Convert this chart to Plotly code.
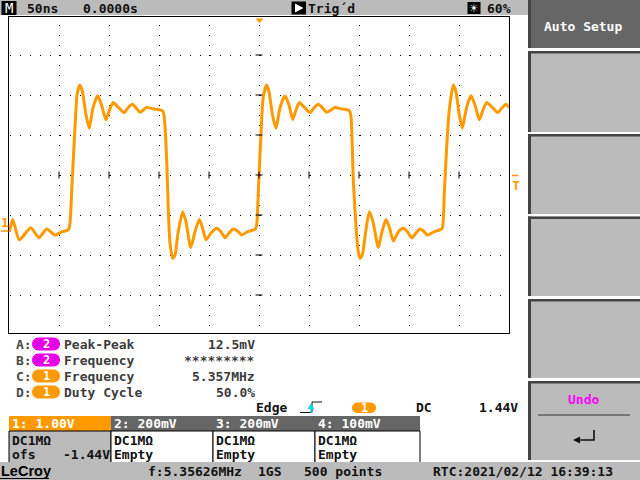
import plotly.graph_objects as go

# ---------------- data read from the screen ----------------
# channel 1 waveform: time in ns (0 = trigger point), voltage in V
time_ns = [
    -249.5, -246.3, -239.7, -228.3, -220, -212.3, -204, -197, -190.7,
    -189, -187, -184, -181.7, -179, -176.5, -173, -169.7, -166, -161.3,
    -157.5, -153, -149.5, -145.7, -141, -135, -131, -126.7, -123, -119,
    -112.3, -107, -102.3, -96.7,
    -95, -92.3, -90.7, -89, -86.3, -84, -81, -76.3, -73, -68.3,
    -64, -59.7, -56.5, -53, -48, -42.3, -38, -34, -30, -25.7,
    -21.5, -17.3, -11, -4,
    -2.3, -1, 0, 2, 4.3, 7.7, 10, 13.5, 17, 21,
    26, 30, 33.7, 37, 40.3, 45, 51, 55, 59.3, 63.5,
    67.7, 76, 81, 86, 90.3,
    92, 94.3, 97, 99.3, 101, 103.5, 106.5, 110.3, 114, 119.3,
    123, 127, 130.5, 134.3, 137, 140.3, 144.3, 148.5, 152.7, 157,
    161, 164.5, 168.3, 175, 181, 183.3,
    185.3, 187.7, 190.3, 194.3, 197, 200, 203.3, 207.5, 212, 216,
    220.3, 224, 227.7, 233, 238.7, 243, 247, 250,
]
ch1_volts = [
    0.02, 0.33, -0.18, 0.12, -0.13, 0.09, -0.06, 0.02, 0.07,
    0.24, 1.19, 2.64, 3.49, 3.69, 3.52, 2.94, 2.61, 3.12, 3.42,
    3.19, 2.82, 3.07, 3.25, 3.14, 3.00, 3.12, 3.21, 3.12, 3.01,
    3.13, 3.10, 3.08, 3.05,
    2.94, 1.82, 0.57, -0.26, -0.64, -0.56, -0.01, 0.52, 0.27, -0.37,
    0.02, 0.33, 0.12, -0.18, -0.01, 0.11, 0.02, -0.13, -0.01, 0.09,
    0.04, -0.06, 0.03, 0.08,
    0.19, 0.82, 1.40, 2.48, 3.40, 3.69, 3.52, 2.94, 2.61, 3.12,
    3.42, 3.19, 2.83, 3.07, 3.25, 3.14, 3.00, 3.12, 3.21, 3.12,
    3.01, 3.13, 3.10, 3.08, 3.05,
    2.90, 1.32, 0.15, -0.48, -0.64, -0.54, -0.01, 0.52, 0.27, -0.37,
    0.02, 0.33, 0.12, -0.21, -0.09, 0.05, 0.11, 0.02, -0.13, -0.01,
    0.09, 0.04, -0.06, 0.02, 0.07, 0.11,
    0.98, 2.15, 3.07, 3.69, 3.52, 2.99, 2.61, 3.12, 3.42, 3.19,
    2.82, 3.07, 3.25, 3.14, 3.00, 3.12, 3.21, 3.12,
]

time_per_div_ns = 50
volts_per_div = 1.0
offset_v = -1.44
h_divs = 10
v_span_divs = 3.95   # visible divisions above / below centre

top_bar = ["50ns", "0.0000s", "Trig\u00b4d", "60%"]
meas_labels = ["A:", "B:", "C:", "D:"]
meas_channels = ["2", "2", "1", "1"]
meas_names = ["Peak-Peak", "Frequency", "Frequency", "Duty Cycle"]
meas_values = ["12.5mV", "*********", "5.357MHz", "50.0%"]
trig_texts = ["Edge", "1", "DC", "1.44V"]
ch_headers = ["1: 1.00V", "2: 200mV", "3: 200mV", "4: 100mV"]
ch_line1 = ["DC1M\u03a9", "DC1M\u03a9", "DC1M\u03a9", "DC1M\u03a9"]
ch_line2 = ["ofs", "Empty", "Empty", "Empty"]
ch1_offset_text = "-1.44V"
status_texts = ["f:5.35626MHz", "1GS", "500 points", "RTC:2021/02/12 16:39:13"]
menu_texts = ["Auto Setup", "Undo"]

# ---------------- helpers ----------------
W, H = 640, 480
MONO = "DejaVu Sans Mono"
ORANGE = "#FF9900"
MAGENTA = "#E600E6"
GRAY = "#BBBBBB"
DARK = "#666666"
EDGE = "#444444"

def X(px):
    return px / W

def Y(py):
    return 1 - py / H

shapes = []
annotations = []

def rect(x0, y0, x1, y1, fill, line=None, lw=0):
    shapes.append(dict(type="rect", xref="paper", yref="paper",
                       x0=X(x0), x1=X(x1), y0=Y(y1), y1=Y(y0),
                       fillcolor=fill, line=dict(width=lw, color=line or fill),
                       layer="above"))

def seg(x0, y0, x1, y1, color, lw=1):
    shapes.append(dict(type="line", xref="paper", yref="paper",
                       x0=X(x0), x1=X(x1), y0=Y(y0), y1=Y(y1),
                       line=dict(width=lw, color=color), layer="above"))

def poly(pts, fill, lw=0, line=None, closed=True):
    d = "M" + " L".join(f"{X(a):.5f},{Y(b):.5f}" for a, b in pts)
    if closed:
        d += " Z"
    shapes.append(dict(type="path", xref="paper", yref="paper", path=d,
                       fillcolor=fill if closed else None,
                       line=dict(width=lw, color=line or fill), layer="above"))

def pill(x0, y0, x1, y1, fill):
    r = (y1 - y0) / 2
    k = 0.552 * r
    yc = (y0 + y1) / 2
    P = lambda a, b: f"{X(a):.5f},{Y(b):.5f}"
    d = (f"M{P(x0 + r, y0)} L{P(x1 - r, y0)} "
         f"C{P(x1 - r + k, y0)} {P(x1, yc - k)} {P(x1, yc)} "
         f"C{P(x1, yc + k)} {P(x1 - r + k, y1)} {P(x1 - r, y1)} "
         f"L{P(x0 + r, y1)} "
         f"C{P(x0 + r - k, y1)} {P(x0, yc + k)} {P(x0, yc)} "
         f"C{P(x0, yc - k)} {P(x0 + r - k, y0)} {P(x0 + r, y0)} Z")
    shapes.append(dict(type="path", xref="paper", yref="paper", path=d,
                       fillcolor=fill, line=dict(width=0, color=fill), layer="above"))

def text(s, x, y, color="#222222", size=13, anchor="left", family=MONO, weight="bold"):
    annotations.append(dict(text=s, x=X(x), y=Y(y), xref="paper", yref="paper",
                            xanchor=anchor, yanchor="middle", showarrow=False,
                            borderpad=0,
                            font=dict(family=family, size=size, color=color,
                                      weight=weight)))

# ---------------- figure ----------------
fig = go.Figure()
fig.add_trace(go.Scatter(
    x=time_ns, y=ch1_volts, mode="lines",
    line=dict(color=ORANGE, width=3, shape="spline", smoothing=0.6),
    hoverinfo="skip", showlegend=False))

x_half = time_per_div_ns * h_divs / 2
centre_v = -offset_v
y_lo = centre_v - v_span_divs * volts_per_div
y_hi = centre_v + v_span_divs * volts_per_div

# plot frame position (pixels)
PL, PR, PT, PB = 9, 509, 17, 333

# centre-cross tick marks
px_per_ns = (PR - PL) / (2 * x_half)
px_per_v = (PB - PT) / (y_hi - y_lo)
for k in range(-4, 5):
    t = k * time_per_div_ns
    shapes.append(dict(type="line", xref="x", yref="y", x0=t, x1=t,
                       y0=centre_v - 3.5 / px_per_v, y1=centre_v + 3.5 / px_per_v,
                       line=dict(color="black", width=1), layer="above"))
for k in range(-3, 4):
    v = centre_v + k * volts_per_div
    shapes.append(dict(type="line", xref="x", yref="y",
                       x0=-3.5 / px_per_ns, x1=3.5 / px_per_ns, y0=v, y1=v,
                       line=dict(color="black", width=1), layer="above"))

# ----- top status bar -----
rect(0, 0, 528, 15, GRAY)
rect(1.5, 1, 16.5, 15, "black")
text("M", 9, 8.5, color="white", size=14, anchor="center", weight="normal")
text(top_bar[0], 26, 8, color="#111111")
text(top_bar[1], 82, 8, color="#111111")
rect(291.5, 1.5, 306, 14.5, "black")
poly([(295, 3.5), (303.5, 8), (295, 12.5)], "white")
text(top_bar[2], 307, 8, color="#111111")
rect(467.5, 2, 480.5, 14, "black")
text("\u2600", 474, 8.5, color="white", size=11, anchor="center", family="DejaVu Sans",
     weight="normal")
text(top_bar[3], 486, 8, color="#111111")

# ----- right soft-key panel -----
buttons = [(0, 48), (51, 132), (134, 214), (216.5, 296), (299, 378), (381, 460)]
for i, (b0, b1) in enumerate(buttons):
    rect(528, b0, 640, b1, DARK if i == 0 else GRAY)
    rect(528, b0, 531, b1, EDGE)
    if i > 0:
        rect(528, b0, 640, b0 + 2.5, EDGE)
text(menu_texts[0], 583, 26, color="white", anchor="center")
text(menu_texts[1], 583, 399, color="#FF00FF", anchor="center")
seg(538, 415, 630, 415, "#333333", 1)
poly([(594, 430), (594, 440), (579, 440)], None, lw=1.6, line="#111111", closed=False)
poly([(573, 440), (580, 436.5), (580, 443.5)], "#111111")

# ----- on-grid markers -----
poly([(255.5, 18.5), (263.5, 18.5), (259.5, 23)], ORANGE)
seg(512, 175.5, 518.5, 175.5, ORANGE, 1.5)
text("T", 515.5, 185, color=ORANGE, size=13, anchor="center")
text("1", 4.5, 222, color=ORANGE, size=13, anchor="center")
seg(1, 231, 8.5, 231, ORANGE, 1.5)

# ----- measurements -----
row_y = [344, 360, 376, 392]
for i in range(4):
    yy = row_y[i]
    text(meas_labels[i], 15, yy, color="#4a4a4a")
    col = MAGENTA if meas_channels[i] == "2" else ORANGE
    pill(32, yy - 6.5, 60, yy + 6.5, col)
    text(meas_channels[i], 46, yy, color="white", size=12, anchor="center")
    text(meas_names[i], 63, yy, color="#3c3c3c")
    text(meas_values[i], 255.5, yy, color="#3c3c3c", anchor="right")

# ----- trigger line -----
ty = 407.5
text(trig_texts[0], 255, ty, color="#111111")
seg(300, 412.5, 312, 412.5, "#111111", 1)
seg(312, 412.5, 312, 402, "#111111", 1)
seg(312, 402, 322, 402, "#111111", 1)
poly([(307.5, 409), (311, 403.5), (314.5, 409)], "#00D8E8")
seg(311, 408, 311, 413, "#00D8E8", 1.5)
pill(352, 402.5, 376, 413, ORANGE)
text(trig_texts[1], 364, ty, color="white", size=12, anchor="center")
text(trig_texts[2], 415, ty, color="#111111")
text(trig_texts[3], 518.5, ty, color="#111111", anchor="right")

# ----- channel boxes -----
box_x = [9, 111, 213, 315, 420]
for i in range(4):
    x0, x1 = box_x[i], box_x[i + 1]
    rect(x0, 416, x1, 431, ORANGE if i == 0 else DARK)
    rect(x0, 431, x1, 463, GRAY if i == 0 else "white", line="black", lw=1)
    text(ch_headers[i], x0 + 1.5, 423.5, color="white")
    text(ch_line1[i], x0 + 1.5, 440, color="#111111")
    text(ch_line2[i], x0 + 1.5, 454, color="#111111")
text(ch1_offset_text, 110.5, 454, color="#111111", anchor="right")

# ----- bottom status bar -----
rect(0, 462, 640, 480, GRAY)
text("LeCroy", 0, 471, color="black", size=14.5, family="Liberation Sans")
seg(0, 478.5, 49, 478.5, "black", 1)
text(status_texts[0], 147, 471.5, color="#111111")
text(status_texts[1], 257, 471.5, color="#111111")
text(status_texts[2], 303, 471.5, color="#111111")
text(status_texts[3], 431.5, 471.5, color="#111111")

axis_common = dict(showticklabels=False, ticks="", zeroline=False,
                   showline=True, mirror=True, linecolor="black", linewidth=1,
                   showgrid=True, gridcolor="black", gridwidth=1, fixedrange=True)

fig.update_layout(
    width=W, height=H, margin=dict(l=0, r=0, t=0, b=0),
    paper_bgcolor="white", plot_bgcolor="rgba(0,0,0,0)",
    showlegend=False,
    xaxis=dict(range=[-x_half, x_half], domain=[X(PL), X(PR)],
               tick0=0, dtick=time_per_div_ns, griddash="0px,8px,1px,1px",
               **axis_common),
    yaxis=dict(range=[y_lo, y_hi], domain=[Y(PB), Y(PT)],
               tick0=centre_v, dtick=volts_per_div, griddash="0px,1px,1px,8px",
               **axis_common),
    shapes=shapes, annotations=annotations,
)

fig.write_html("out.html", config={"displayModeBar": False},
               post_script="document.body.style.margin='0px';document.body.style.overflow='hidden';")
